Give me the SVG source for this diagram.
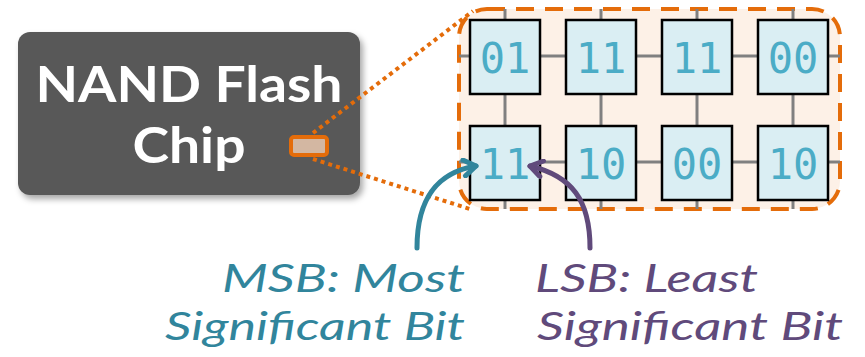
<svg xmlns="http://www.w3.org/2000/svg" width="865" height="357" viewBox="0 0 865 357">
<defs>
<filter id="sh" x="-10%" y="-10%" width="130%" height="140%">
<feDropShadow dx="3" dy="4" stdDeviation="3" flood-color="#000" flood-opacity="0.35"/>
</filter>
<marker id="mt" viewBox="0 0 20 20" refX="16" refY="10" markerWidth="20" markerHeight="20" markerUnits="userSpaceOnUse" orient="auto">
<path d="M4,2 L16,10 L4,18" fill="none" stroke="#31859c" stroke-width="5" stroke-linecap="round" stroke-linejoin="round"/>
</marker>
<marker id="mp" viewBox="0 0 20 20" refX="16" refY="10" markerWidth="20" markerHeight="20" markerUnits="userSpaceOnUse" orient="auto">
<path d="M4,2 L16,10 L4,18" fill="none" stroke="#604a7b" stroke-width="5" stroke-linecap="round" stroke-linejoin="round"/>
</marker>
</defs>
<style>
.chipt{font-family:Lato,"Open Sans","Liberation Sans",sans-serif;font-weight:bold;font-size:50px;fill:#fff;text-anchor:middle}
.cell rect{fill:#daeef3;stroke:#000;stroke-width:2.5}
.cell text{font-family:"DejaVu Sans Mono","Liberation Mono",monospace;font-size:42px;fill:#4bacc6;text-anchor:middle}
.grid line{stroke:#808080;stroke-width:3}
.dot{fill:none;stroke:#e46c0a;stroke-width:4;stroke-dasharray:4 4}
.lbl{font-family:Lato,"Open Sans","Liberation Sans",sans-serif;font-style:italic;font-size:39px}
</style>
<rect width="865" height="357" fill="#fff"/>
<g id="chip">
<rect x="18" y="32" width="342" height="163" rx="12" fill="#595959" filter="url(#sh)"/>
<text class="chipt" x="189" y="102" textLength="307" lengthAdjust="spacingAndGlyphs">NAND Flash</text>
<text class="chipt" x="189" y="163" textLength="113" lengthAdjust="spacingAndGlyphs">Chip</text>
</g>
<g id="array">
<rect x="459" y="9" width="381" height="200" rx="28" fill="#fdf1e7" stroke="#e46c0a" stroke-width="4" stroke-dasharray="18 11"/>
<g class="grid">
<line x1="459" y1="56" x2="840" y2="56"/>
<line x1="459" y1="162" x2="840" y2="162"/>
<line x1="505" y1="9" x2="505" y2="209"/>
<line x1="601" y1="9" x2="601" y2="209"/>
<line x1="697" y1="9" x2="697" y2="209"/>
<line x1="793" y1="9" x2="793" y2="209"/>
</g>
<g id="c1" class="cell"><rect x="470" y="20" width="70" height="74"/><text x="505" y="73">01</text></g>
<g id="c2" class="cell"><rect x="566" y="20" width="70" height="74"/><text x="601" y="73">11</text></g>
<g id="c3" class="cell"><rect x="662" y="20" width="70" height="74"/><text x="697" y="73">11</text></g>
<g id="c4" class="cell"><rect x="758" y="20" width="70" height="74"/><text x="793" y="73">00</text></g>
<g id="c5" class="cell"><rect x="470" y="126" width="70" height="74"/><text x="505" y="179">11</text></g>
<g id="c6" class="cell"><rect x="566" y="126" width="70" height="74"/><text x="601" y="179">10</text></g>
<g id="c7" class="cell"><rect x="662" y="126" width="70" height="74"/><text x="697" y="179">00</text></g>
<g id="c8" class="cell"><rect x="758" y="126" width="70" height="74"/><text x="793" y="179">10</text></g>
</g>
<g id="connectors">
<line class="dot" x1="313" y1="133" x2="473" y2="11"/>
<line class="dot" x1="313" y1="159" x2="473" y2="210"/>
<path d="M417,248 C417,195 440,172 476,166" fill="none" stroke="#31859c" stroke-width="5" stroke-linecap="round" marker-end="url(#mt)"/>
<path d="M590,248 C590,200 572,176 530,166" fill="none" stroke="#604a7b" stroke-width="5" stroke-linecap="round" marker-end="url(#mp)"/>
</g>
<g id="zoombox">
<rect x="291" y="137" width="36" height="18" rx="3" fill="#d3b7a2" stroke="#e46c0a" stroke-width="4"/>
</g>
<g id="msb">
<text class="lbl" fill="#31859c" x="465" y="292" text-anchor="end" textLength="243" lengthAdjust="spacingAndGlyphs">MSB: Most</text>
<text class="lbl" fill="#31859c" x="465" y="340" text-anchor="end" textLength="300" lengthAdjust="spacingAndGlyphs">Significant Bit</text>
</g>
<g id="lsb">
<text class="lbl" fill="#604a7b" x="535" y="292" textLength="223" lengthAdjust="spacingAndGlyphs">LSB: Least</text>
<text class="lbl" fill="#604a7b" x="537" y="340" textLength="306" lengthAdjust="spacingAndGlyphs">Significant Bit</text>
</g>
</svg>
